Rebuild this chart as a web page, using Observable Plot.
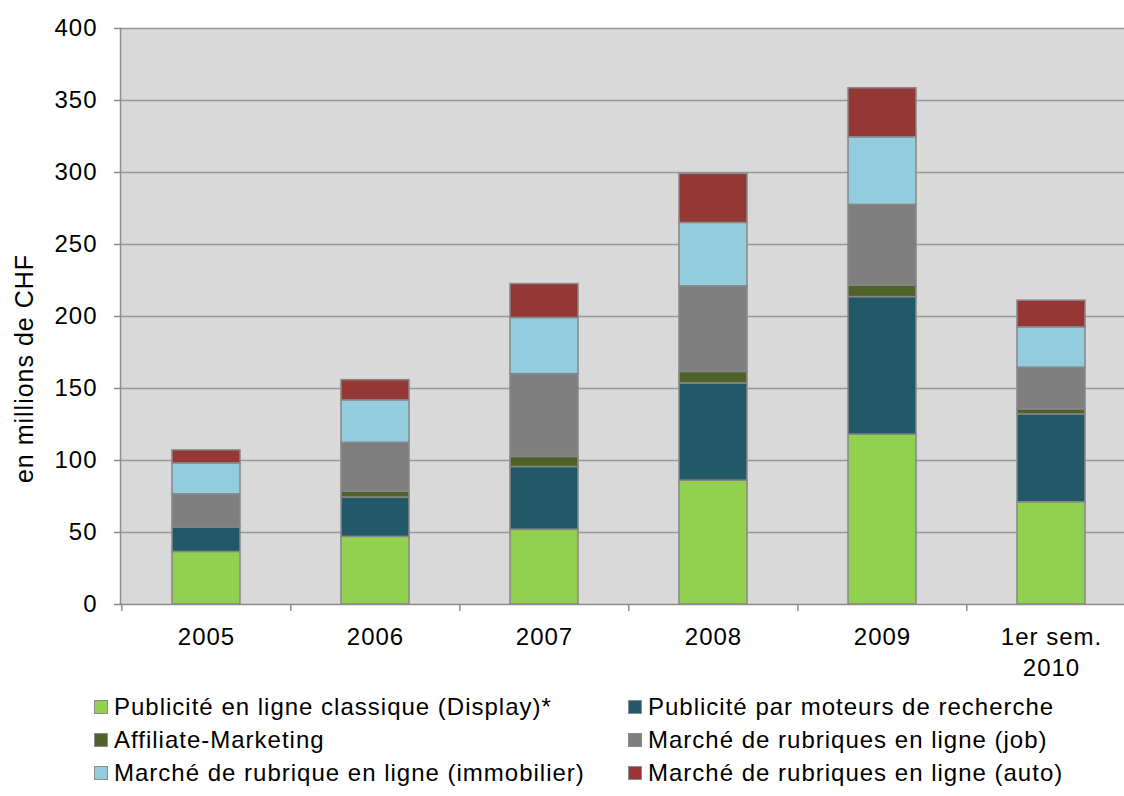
<!DOCTYPE html>
<html>
<head>
<meta charset="utf-8">
<script src="https://cdn.jsdelivr.net/npm/d3@7"></script>
<script src="https://cdn.jsdelivr.net/npm/@observablehq/plot@0.6"></script>
<style>
  html, body { margin: 0; padding: 0; background: #ffffff; overflow: hidden; }
  #chart { width: 1124px; }
  .legend { display: grid; grid-template-columns: 534px 480px; padding-left: 94px; padding-top: 2px; font-family: "Liberation Sans", Arial, sans-serif; font-size: 24px; letter-spacing: 1px; color: #000; }
  .legend .item { display: flex; align-items: center; height: 33px; white-space: nowrap; }
  .legend .sw { width: 12px; height: 12px; border: 1.5px solid #8c8c8c; margin-right: 6px; flex: none; }
</style>
</head>
<body>
<div id="chart"></div>
<script>
const categories = ["2005", "2006", "2007", "2008", "2009", "1er sem.\n2010"];
const seriesNames = [
  "Publicité en ligne classique (Display)*",
  "Publicité par moteurs de recherche",
  "Affiliate-Marketing",
  "Marché de rubriques en ligne (job)",
  "Marché de rubrique en ligne (immobilier)",
  "Marché de rubriques en ligne (auto)"
];
const seriesColors = ["#92d050", "#215968", "#4f6228", "#7f7f7f", "#93cddd", "#953735"];
const display   = [36.5, 47,   52,   86,   118,  71];
const search    = [17,   27.3, 43.5, 67.5, 95.5, 61];
const affiliate = [0,    4,    7,    8,    8,    3.5];
const job       = [23,   34,   57.5, 59.5, 56,   29];
const immo      = [21.5, 29.5, 39,   44,   47,   28];
const auto      = [9,    14,   23.5, 34,   34,   18.5];
const yTicks = [0, 50, 100, 150, 200, 250, 300, 350, 400];
const yLabel = "en millions de CHF";

const seriesValues = [display, search, affiliate, job, immo, auto];
const table = [];
seriesNames.forEach((name, si) => {
  categories.forEach((cat, ci) => {
    table.push({category: cat, series: name, value: seriesValues[si][ci]});
  });
});

const width = 1124;
const marginLeft = 120;
const marginRight = -12;
const step = (width - marginRight - marginLeft) / categories.length;

const chart = Plot.plot({
  width,
  height: 688,
  marginTop: 28,
  marginBottom: 84,
  marginLeft,
  marginRight,
  style: {fontFamily: "Liberation Sans, Arial, sans-serif", fontSize: "24px", letterSpacing: "1px", color: "#000", background: "#ffffff", overflow: "hidden"},
  x: {domain: categories, paddingInner: 0.6, paddingOuter: 0.3, label: null},
  y: {domain: [0, 400], label: null},
  color: {domain: seriesNames, range: seriesColors},
  marks: [
    Plot.frame({fill: "#d9d9d9", stroke: null}),
    Plot.ruleY(yTicks.filter(d => d > 0), {stroke: "#999999", strokeWidth: 1.6}),
    Plot.barY(table, {x: "category", y: "value", fill: "series", stroke: "#878787", strokeWidth: 1.5}),
    Plot.ruleY([0], {stroke: "#8c8c8c", strokeWidth: 1.5}),
    Plot.frame({anchor: "left", stroke: "#8c8c8c", strokeWidth: 1.5}),
    Plot.axisY({ticks: yTicks, tickSize: 6, tickPadding: 17, stroke: "#8c8c8c", strokeWidth: 1.5, label: null, fill: "#000"}),
    Plot.axisX({tickSize: 0, tickPadding: 18, label: null, lineHeight: 1.3, fill: "#000"}),
    Plot.axisX({tickSize: 7, tickFormat: () => "", dx: -step / 2, stroke: "#8c8c8c", strokeWidth: 1.5, label: null}),
    Plot.text([yLabel], {frameAnchor: "left", text: d => d, rotate: -90, textAnchor: "middle", dx: -96, dy: 52, fontSize: 25, letterSpacing: 0, fill: "#000"})
  ]
});
document.getElementById("chart").appendChild(chart);

const legend = document.createElement("div");
legend.className = "legend";
seriesNames.forEach((name, i) => {
  const item = document.createElement("div");
  item.className = "item";
  const sw = document.createElement("span");
  sw.className = "sw";
  sw.style.background = seriesColors[i];
  const label = document.createElement("span");
  label.textContent = name;
  item.appendChild(sw);
  item.appendChild(label);
  legend.appendChild(item);
});
document.getElementById("chart").appendChild(legend);
</script>
</body>
</html>
